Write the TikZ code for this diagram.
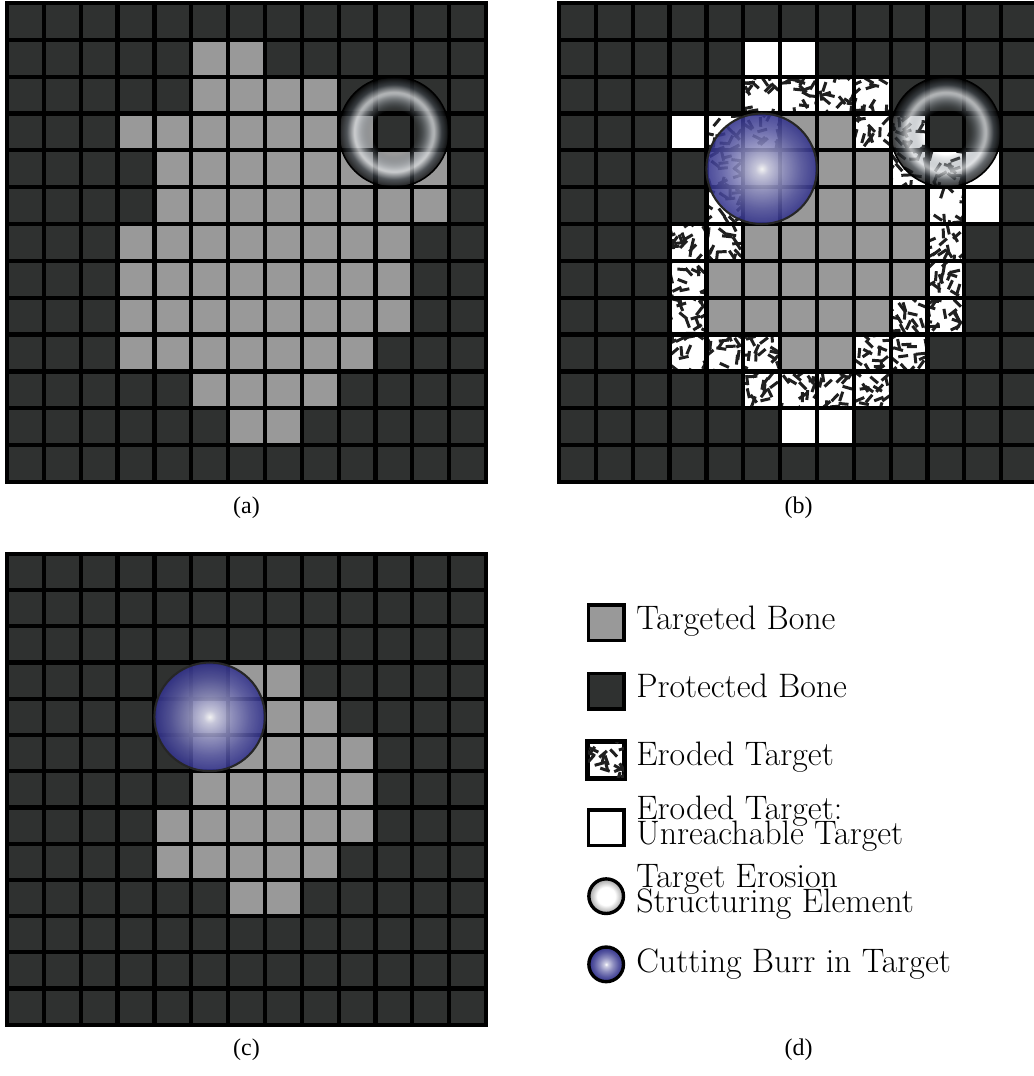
\documentclass[tikz,border=0pt]{standalone}
\usepackage{fontspec}
\newfontfamily\capfont{Liberation Serif}
\usetikzlibrary{fadings}

\definecolor{protectedgray}{RGB}{47,49,48}
\definecolor{targetgray}{RGB}{153,153,153}
\definecolor{burrblue}{RGB}{50,50,140}
\definecolor{ringgray}{RGB}{105,115,125}

% sombreados
\pgfdeclareradialshading{burrshade}{\pgfpointorigin}{color(0bp)=(white); color(3bp)=(white!75!burrblue); color(10bp)=(burrblue!55!white); color(18bp)=(burrblue!82!white); color(25bp)=(burrblue); color(50bp)=(burrblue)}
\pgfdeclareradialshading{ringshade}{\pgfpointorigin}{color(0bp)=(ringgray); color(11bp)=(ringgray); color(18bp)=(white!75!ringgray); color(21.5bp)=(ringgray!55!black); color(25bp)=(black); color(50bp)=(black)}
\pgfdeclareradialshading{ringmask}{\pgfpointorigin}{color(0bp)=(black); color(10bp)=(black); color(17bp)=(white!78!black); color(50bp)=(white!78!black)}
\pgfdeclarefading{ringfade}{\pgfuseshading{ringmask}}
\pgfdeclareradialshading{keyring}{\pgfpointorigin}{color(0bp)=(white); color(13bp)=(white); color(25bp)=(gray!75); color(50bp)=(gray!75)}

\newcommand\keyfont{\fontsize{26.2}{19.8}\selectfont\lineskiplimit-40pt\relax}

\begin{document}
\begin{tikzpicture}[
					protected/.style={fill=protectedgray},
					targeted/.style={fill=targetgray},
					unreach/.style={fill=white},
					stick/.style={line width=2.3pt, black!88},
					cellline/.style={line width=3.3pt, black},
					burrline/.style={line width=1.6pt, black!85},
					ringline/.style={line width=1.2pt, black},
					keybox/.style={draw=black, line width=2.8pt, minimum size=0.96cm, inner sep=0pt},
					keycirc/.style={circle, draw=black, line width=2.6pt, minimum size=0.94cm, inner sep=0pt},
					keytext/.style={anchor=base west, inner sep=0pt, align=left, font=\keyfont},
					caption/.style={inner sep=0pt, font=\capfont\fontsize{18.5}{22}\selectfont}
				]
				% Parámetros de geometría
				\def\n{13}       % celdas por lado
				\def\R{1.5}      % radio de la esfera / elemento
				\pgfmathsetseed{42}

				\useasboundingbox (0,0) rectangle (28.06,-29.20);

				% --- Rejilla (a) ---
				\begin{scope}[shift={(0.19,-0.08)}]
					\fill[protected] (0,0) rectangle (\n,-\n);
					\foreach \r/\cs in {1/{5,6}, 2/{5,...,8}, 3/{3,...,9}, 4/{4,...,11}, 5/{4,...,11}, 6/{3,...,10}, 7/{3,...,10}, 8/{3,...,10}, 9/{3,...,9}, 10/{5,...,8}, 11/{6,7}}
						\foreach \c in \cs \fill[targeted] (\c,-\r) rectangle ++(1,-1);
					\draw[cellline] (0,-\n) grid (\n,0);
					\draw[cellline] (0,0) rectangle (\n,-\n);
					% elemento estructurante
					\shade[shading=ringshade, path fading=ringfade] (10.5,-3.5) circle (\R);
					\draw[ringline] (10.5,-3.5) circle (\R);
				\end{scope}

				% --- Rejilla (b) ---
				\begin{scope}[shift={(15.17,-0.08)}]
					\fill[protected] (0,0) rectangle (\n,-\n);
					\foreach \r/\cs in {3/{6,7}, 4/{5,...,8}, 5/{5,...,9}, 6/{5,...,9}, 7/{4,...,9}, 8/{4,...,8}, 9/{6,7}}
						\foreach \c in \cs \fill[targeted] (\c,-\r) rectangle ++(1,-1);
					\foreach \r/\cs in {1/{5,6}, 3/{3}, 4/{11}, 5/{11}, 11/{6,7}}
						\foreach \c in \cs \fill[unreach] (\c,-\r) rectangle ++(1,-1);
					% celdas erosionadas
					\foreach \r/\cs in {2/{5,...,8}, 3/{4,5,8,9}, 4/{4,9,10}, 5/{4,10}, 6/{3,4,10}, 7/{3,10}, 8/{3,9,10}, 9/{3,4,5,8,9}, 10/{5,...,8}}
						\foreach \c in \cs {
							\fill[white] (\c,-\r) rectangle ++(1,-1);
							\begin{scope}
								\clip (\c,-\r) rectangle ++(1,-1);
								\foreach \k in {1,...,21}
									\draw[stick] (\c-0.08+1.16*rnd,-\r+0.08-1.16*rnd) -- ++({360*rnd}:0.27);
							\end{scope}
						}
					\draw[cellline] (0,-\n) grid (\n,0);
					\draw[cellline] (0,0) rectangle (\n,-\n);
					\shade[shading=ringshade, path fading=ringfade] (10.5,-3.5) circle (\R);
					\draw[ringline] (10.5,-3.5) circle (\R);
					% fresa
					\shade[shading=burrshade, opacity=0.88] (5.5,-4.5) circle (\R);
					\draw[burrline] (5.5,-4.5) circle (\R);
				\end{scope}

				% --- Rejilla (c) ---
				\begin{scope}[shift={(0.19,-15.03)}, yscale=0.983]
					\fill[protected] (0,0) rectangle (\n,-\n);
					\foreach \r/\cs in {3/{6,7}, 4/{5,...,8}, 5/{5,...,9}, 6/{5,...,9}, 7/{4,...,9}, 8/{4,...,8}, 9/{6,7}}
						\foreach \c in \cs \fill[targeted] (\c,-\r) rectangle ++(1,-1);
					\draw[cellline] (0,-\n) grid (\n,0);
					\draw[cellline] (0,0) rectangle (\n,-\n);
					\shade[shading=burrshade, opacity=0.88] (5.5,-4.5) circle (\R);
					\draw[burrline] (5.5,-4.5) circle (\R);
				\end{scope}

				% --- Leyenda (d) ---
				\node[keybox, fill=targetgray] (keyTarget) at (16.45,-16.90) {};
				\node[keytext] (txtTarget) at (17.26,-17.08) {Targeted Bone};

				\node[keybox, fill=protectedgray] (keyProtect) at (16.45,-18.76) {};
				\node[keytext] (txtProtect) at (17.26,-18.92) {Protected Bone};

				\node[keybox, fill=white] (keyEroded) at (16.45,-20.62) {};
				\begin{scope}
					\clip (keyEroded.south west) rectangle (keyEroded.north east);
					\foreach \k in {1,...,20}
						\draw[stick] (15.9+1.1*rnd,-20.07-1.1*rnd) -- ++({360*rnd}:0.27);
				\end{scope}
				\draw[line width=2.8pt] (keyEroded.south west) rectangle (keyEroded.north east);
				\node[keytext] (txtEroded) at (17.26,-20.78) {Eroded Target};

				\node[keybox, fill=white] (keyUnreach) at (16.45,-22.46) {};
				\node[keytext] (txtUnreach) at (17.26,-22.93) {Eroded Target:\\Unreachable Target};

				\node[keycirc, shade, shading=keyring] (keyRing) at (16.45,-24.32) {};
				\node[keytext] (txtRing) at (17.26,-24.77) {Target Erosion\\Structuring Element};

				\node[keycirc, shade, shading=burrshade] (keyBurr) at (16.45,-26.17) {};
				\node[keytext] (txtBurr) at (17.26,-26.40) {Cutting Burr in Target};

				% --- Rótulos ---
				\node[caption] (capA) at (6.69,-13.78) {(a)};
				\node[caption] (capB) at (21.67,-13.78) {(b)};
				\node[caption] (capC) at (6.69,-28.49) {(c)};
				\node[caption] (capD) at (21.67,-28.49) {(d)};

			\end{tikzpicture}
\end{document}
